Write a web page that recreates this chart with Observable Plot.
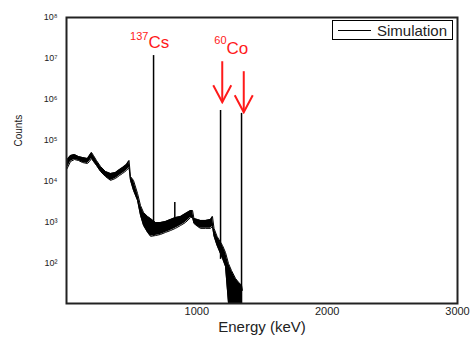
<!DOCTYPE html>
<html><head><meta charset="utf-8">
<script src="https://cdn.jsdelivr.net/npm/d3@7"></script>
<script src="https://cdn.jsdelivr.net/npm/@observablehq/plot@0.6"></script>
<style>
body{margin:0;background:#fff;}
#wrap{position:relative;width:470px;height:341px;font-family:"Liberation Sans",Arial,sans-serif;}
#legend{position:absolute;left:332px;top:20px;width:121px;height:20px;box-sizing:border-box;border:1.5px solid #000;background:#fff;display:flex;align-items:center;}
#legend .sw{width:33px;height:0;border-top:1.5px solid #000;margin-left:5px;margin-right:6px;}
#legend .lb{font-size:15px;color:#222;line-height:1;}
</style></head>
<body><div id="wrap"></div>
<script>
// Spectrum envelope (noisy band)
const energy = [5,31,61,92,123,161,176,192,207,230,261,299,338,376,407,430,460,480,491,514,545,568,591,622,645,683,721,760,798,836,875,913,952,967,978,1005,1028,1067,1105,1120,1132,1155,1197,1220,1243,1266,1297,1320,1343,1350];
const countsHigh = [33400,41900,44400,39600,37400,35400,41900,49700,41900,31600,22600,17000,15200,16100,19000,21300,25200,31600,12800,10300,4930,2500,1690,1350,1200,960,960,1020,1140,1270,1350,1600,1890,1890,1200,1140,1080,1080,1140,1350,690,440,263,177,95,64,41,33,28,21];
const countsLow = [20100,29900,33400,31600,28200,26700,29900,35400,29900,23900,17000,12800,10300,11500,13600,15200,18000,21300,10300,5840,3320,1430,810,550,440,460,490,550,610,690,810,960,1270,1270,910,770,690,690,690,770,440,263,126,80,10,10,10,10,10,10];

// Narrow peaks
const peakEnergy = [668, 1182, 1343, 831];
const peakCounts = [1.17e7, 5.3e5, 4.5e5, 2960];
const peakBase = [440, 120, 10, 1100];

// Annotations
const labelNames = ["Cs", "Co"];
const labelMass = ["137", "60"];
const labelEnergy = [629, 1228];
const labelCounts = [2.5e7, 1.69e7];
const labelSupCounts = [3.43e7, 2.73e7];

const arrowEnergy = [1195, 1360];
const arrowFrom = [8.5e6, 4.85e6];
const arrowTo = [8.45e5, 4.8e5];

// Axes
const xTicks = [1000, 2000, 3000];
const xTickLabels = ["1000", "2000", "3000"];
const yTicks = [1e2, 1e3, 1e4, 1e5, 1e6, 1e7, 1e8];
const yTickLabels = ["10²", "10³", "10⁴", "10⁵", "10⁶", "10⁷", "10⁸"];

const spectrum = energy.map((e, i) => ({energy: e, hi: countsHigh[i], lo: countsLow[i]}));
const peaks = peakEnergy.map((e, i) => ({energy: e, counts: peakCounts[i], base: peakBase[i]}));
const labels = labelNames.map((n, i) => ({name: n, mass: labelMass[i], energy: labelEnergy[i], y: labelCounts[i], ySup: labelSupCounts[i]}));
const arrows = arrowEnergy.map((e, i) => ({energy: e, from: arrowFrom[i], to: arrowTo[i]}));

const chart = Plot.plot({
  width: 470, height: 341,
  marginLeft: 66, marginRight: 13, marginTop: 17, marginBottom: 38,
  style: {fontFamily: "Liberation Sans, Arial, sans-serif", background: "white", color: "#222"},
  x: {domain: [0, 3000]},
  y: {type: "log", domain: [10, 1e8]},
  marks: [
    Plot.areaY(spectrum, {x: "energy", y1: "lo", y2: "hi", fill: "black"}),
    Plot.line(spectrum, {x: "energy", y: "hi", stroke: "black", strokeWidth: 1}),
    Plot.line(spectrum, {x: "energy", y: "lo", stroke: "black", strokeWidth: 1}),
    Plot.ruleX(peaks, {x: "energy", y1: "base", y2: "counts", stroke: "black", strokeWidth: 1.5}),
    Plot.link(arrows, {x1: "energy", x2: "energy", y1: "from", y2: "to", stroke: "#ff1a1a", strokeWidth: 2, className: "co-arrow"}),
    Plot.text(labels, {x: "energy", y: "y", text: "name", textAnchor: "start", fill: "#ff1a1a", fontSize: 17}),
    Plot.text(labels, {x: "energy", y: "ySup", text: "mass", textAnchor: "end", fill: "#ff1a1a", fontSize: 11}),
    Plot.axisX({ticks: xTicks, tickFormat: d => xTickLabels[xTicks.indexOf(d)], tickSize: 0, tickPadding: 4, fontSize: 11, label: null}),
    Plot.axisY({ticks: yTicks, tickFormat: d => yTickLabels[yTicks.indexOf(d)], tickSize: 0, tickPadding: 9, fontSize: 9, label: null}),
    Plot.text(["Energy (keV)"], {text: d => d, frameAnchor: "bottom", dy: 28, fontSize: 15}),
    Plot.text(["Counts"], {text: d => d, frameAnchor: "left", dx: -48, dy: -14, rotate: -90, fontSize: 10}),
    Plot.frame({stroke: "#222", strokeWidth: 2})
  ]
});

const svg = d3.select(chart.tagName.toLowerCase() === "svg" ? chart : chart.querySelector("svg"));
const marker = svg.append("defs").append("marker")
  .attr("id", "bigArrow").attr("markerUnits", "userSpaceOnUse")
  .attr("viewBox", "-20 -11 22 22").attr("markerWidth", 22).attr("markerHeight", 22)
  .attr("refX", 0).attr("refY", 0).attr("orient", "auto");
marker.append("path").attr("d", "M-17,-9L0,0L-17,9").attr("fill", "none").attr("stroke", "#ff1a1a").attr("stroke-width", 2);
svg.selectAll(".co-arrow path").attr("marker-end", "url(#bigArrow)");

const wrap = document.getElementById("wrap");
wrap.appendChild(chart);
const legend = document.createElement("div");
legend.id = "legend";
legend.innerHTML = '<div class="sw"></div><div class="lb">Simulation</div>';
wrap.appendChild(legend);
</script>
</body></html>
